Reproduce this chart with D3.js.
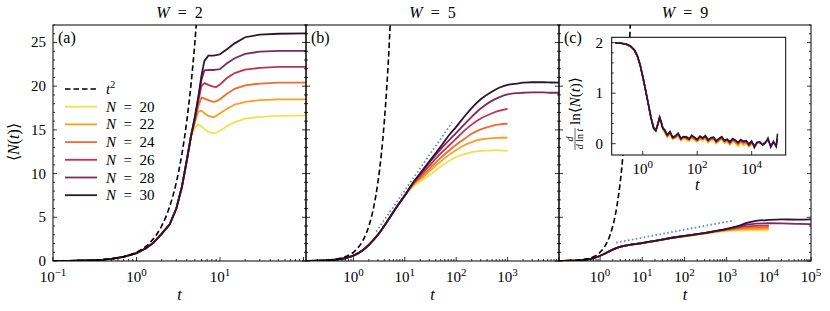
<!DOCTYPE html>
<html>
<head>
<meta charset="utf-8">
<script src="https://cdnjs.cloudflare.com/ajax/libs/d3/7.8.5/d3.min.js"></script>
<style>
  body { margin: 0; background: #fff; }
</style>
</head>
<body>
<svg id="fig" width="830" height="311"></svg>
<script>
// ---- data ----
var sizes = [20, 22, 24, 26, 28, 30];
var colors = ["#f3e04a", "#fb9e1d", "#f06b2c", "#c6304f", "#7e2a5c", "#2b1532"];

// t^2 reference curve
var tSq = [0.1, 0.15, 0.2, 0.3, 0.5, 0.7, 1, 1.25, 1.5, 1.75, 2, 2.5, 3, 3.5, 4, 4.5, 5, 5.5];
var vSq = [0.01, 0.0225, 0.04, 0.09, 0.25, 0.49, 1, 1.5625, 2.25, 3.0625, 4, 6.25, 9, 12.25, 16, 20.25, 25, 30.25];

// panel (a), W = 2
var tA = [0.1, 0.15, 0.2, 0.3, 0.4, 0.5, 0.7, 1, 1.3, 1.6, 2, 2.5, 3, 3.5, 4, 4.5,
          5, 5.5, 6, 6.5, 7.25, 8.3, 9, 10, 12, 15, 20, 30, 50, 107];
var headA = [0.01, 0.022, 0.04, 0.09, 0.16, 0.245, 0.47, 0.9, 1.45, 2.1, 3.1, 4.2, 6.0, 8.5, 11.5, 14.3];
var yA = [
  headA.concat([15.2, 15.6, 15.4, 15.1, 14.8, 14.6, 14.7, 14.9, 15.4, 15.9, 16.3, 16.5, 16.6, 16.65]),
  headA.concat([15.8, 17.1, 17.2, 16.9, 16.6, 16.45, 16.6, 16.9, 17.4, 17.9, 18.2, 18.4, 18.5, 18.5]),
  headA.concat([16.0, 17.7, 18.7, 18.6, 18.4, 18.2, 18.25, 18.5, 19.1, 19.7, 20.1, 20.3, 20.4, 20.4]),
  headA.concat([16.2, 18.3, 20.0, 20.35, 20.15, 19.95, 19.9, 20.2, 20.9, 21.5, 21.9, 22.1, 22.2, 22.2]),
  headA.concat([16.4, 18.6, 20.7, 21.8, 21.85, 21.85, 21.9, 21.95, 22.6, 23.2, 23.7, 23.95, 24.05, 24.05]),
  headA.concat([16.5, 18.8, 21.2, 22.9, 23.5, 23.5, 23.55, 23.65, 24.2, 24.9, 25.6, 25.9, 26.0, 26.05])
];

// panel (b), W = 5
var tB = [0.12, 0.2, 0.3, 0.5, 0.7, 1, 1.5, 2, 3, 5, 7, 10, 15, 20, 30, 50, 75, 100, 150, 200,
          300, 500, 700, 1000, 1500, 2000, 3000, 5000, 7000, 10000];
var headB = [0.01, 0.03, 0.07, 0.19, 0.34, 0.62, 1.2, 1.85, 3.0, 4.9, 6.2, 7.5];
var yB = [
  headB.concat([8.6, 9.1, 9.8, 10.8, 11.5, 11.9, 12.25, 12.45, 12.6, 12.65, 12.65, 12.6]),
  headB.concat([8.75, 9.35, 10.25, 11.4, 12.2, 12.7, 13.3, 13.6, 13.9, 14.05, 14.1, 14.1]),
  headB.concat([8.85, 9.55, 10.55, 11.8, 12.7, 13.3, 14.05, 14.55, 15.05, 15.45, 15.62, 15.7]),
  headB.concat([8.95, 9.75, 10.9, 12.3, 13.3, 14.0, 15.0, 15.6, 16.3, 16.9, 17.2, 17.4]),
  headB.concat([9.05, 9.95, 11.25, 12.8, 13.9, 14.65, 15.75, 16.5, 17.45, 18.35, 18.75, 19.05, 19.2, 19.25, 19.3, 19.3, 19.25, 19.25]),
  headB.concat([9.1, 10.05, 11.4, 13.1, 14.5, 15.35, 16.65, 17.5, 18.5, 19.4, 19.85, 20.15, 20.3, 20.4, 20.45, 20.45, 20.42, 20.4])
];
var dotBt = [2.77, 83], dotBv = [3.36, 15.85];

// panel (c), W = 9
var tC = [0.107, 0.2, 0.3, 0.5, 0.7, 1, 1.5, 2, 2.5, 4, 6, 10, 20, 50, 100, 200, 500, 1000,
          2000, 3000, 5000, 10000, 20000, 50000, 100000];
var headC = [0.01, 0.03, 0.07, 0.18, 0.33, 0.6, 1.0, 1.3, 1.5, 1.75, 1.9, 2.05];
var yC = [
  headC.concat([2.26, 2.6, 2.78, 2.98, 3.26, 3.42, 3.48, 3.5, 3.51, 3.51]),
  headC.concat([2.28, 2.63, 2.82, 3.03, 3.31, 3.5, 3.6, 3.64, 3.66, 3.67]),
  headC.concat([2.29, 2.64, 2.84, 3.05, 3.35, 3.57, 3.73, 3.8, 3.85, 3.86]),
  headC.concat([2.3, 2.65, 2.86, 3.07, 3.38, 3.62, 3.85, 3.95, 4.02, 4.05]),
  headC.concat([2.3, 2.66, 2.87, 3.08, 3.4, 3.66, 3.98, 4.15, 4.28, 4.32, 4.3, 4.24, 4.22]),
  headC.concat([2.3, 2.66, 2.87, 3.08, 3.4, 3.68, 4.05, 4.35, 4.58, 4.7, 4.76, 4.74, 4.76])
];
var dotCt = [2.4, 1520], dotCv = [2.1, 4.66];

// inset of (c): d ln<N> / d ln t, x given as log10(t)
var insHeadLog = [-1, -0.8, -0.6, -0.45, -0.3, -0.2, -0.1, 0, 0.1, 0.2, 0.3, 0.4, 0.48, 0.55, 0.62, 0.68, 0.74];
var insHead    = [2.0, 1.99, 1.97, 1.93, 1.85, 1.74, 1.57, 1.33, 1.07, 0.8, 0.52, 0.31, 0.26, 0.38, 0.52, 0.42, 0.3];
var insLog = [0.8, 0.9, 1.0, 1.1, 1.2, 1.3, 1.4, 1.5, 1.6, 1.7, 1.8, 1.9, 2.0, 2.1, 2.2, 2.3, 2.4, 2.5,
              2.6, 2.7, 2.8, 2.9, 3.0, 3.1, 3.2, 3.3, 3.4, 3.5, 3.6, 3.7, 3.8, 3.9, 4.0,
              4.1, 4.2, 4.3, 4.4, 4.5, 4.6, 4.7, 4.8, 4.9, 4.95];
var insY = [
  [0.22, 0.13, 0.18, 0.08, 0.12, 0.14, 0.06, 0.1, 0.07, 0.05, 0.11, 0.06, 0.03, 0.09, 0.05, 0.1, 0.02, 0.07,
   0.06, 0.0, 0.05, 0.08, 0.01, 0.03, -0.03, 0.04, 0.0, -0.05, 0.02, -0.04, 0.0, -0.06, -0.02],
  [0.23, 0.15, 0.2, 0.1, 0.11, 0.17, 0.07, 0.12, 0.09, 0.06, 0.12, 0.08, 0.05, 0.1, 0.08, 0.11, 0.03, 0.08,
   0.09, 0.01, 0.06, 0.1, 0.02, 0.05, -0.01, 0.06, 0.02, -0.03, 0.04, -0.02, 0.02, -0.05, 0.0],
  [0.25, 0.14, 0.22, 0.11, 0.13, 0.18, 0.08, 0.13, 0.1, 0.08, 0.14, 0.09, 0.06, 0.12, 0.09, 0.13, 0.05, 0.09,
   0.1, 0.03, 0.07, 0.11, 0.04, 0.06, 0.0, 0.07, 0.04, -0.01, 0.05, 0.01, 0.03, -0.04, 0.02],
  [0.27, 0.16, 0.23, 0.12, 0.14, 0.2, 0.09, 0.14, 0.12, 0.08, 0.16, 0.11, 0.07, 0.14, 0.1, 0.15, 0.06, 0.11,
   0.12, 0.04, 0.09, 0.13, 0.05, 0.08, 0.02, 0.09, 0.06, 0.01, 0.07, 0.03, 0.05, -0.03, 0.04],
  [0.27, 0.18, 0.22, 0.13, 0.16, 0.19, 0.11, 0.13, 0.14, 0.1, 0.15, 0.13, 0.09, 0.14, 0.12, 0.14, 0.08, 0.11,
   0.12, 0.06, 0.1, 0.12, 0.07, 0.08, 0.04, 0.09, 0.06, 0.03, 0.07, 0.05, 0.05, 0.0, 0.04,
   -0.04, 0.03, 0.02, -0.01, 0.03, 0.07, -0.04, 0.05, -0.06, 0.1],
  [0.28, 0.17, 0.24, 0.12, 0.15, 0.21, 0.1, 0.14, 0.13, 0.09, 0.17, 0.12, 0.08, 0.15, 0.11, 0.16, 0.07, 0.12,
   0.13, 0.05, 0.1, 0.14, 0.06, 0.09, 0.03, 0.1, 0.07, 0.02, 0.08, 0.04, 0.06, -0.02, 0.05,
   -0.08, 0.02, 0.04, -0.03, 0.01, 0.11, -0.07, 0.03, -0.05, 0.2]
];

var xTickExp = [[-1, 0, 1], [0, 1, 2, 3], [0, 1, 2, 3, 4, 5]];
var yTicks = [0, 5, 10, 15, 20, 25];
var titles = ["2", "5", "9"];
var panelTags = ["(a)", "(b)", "(c)"];

// ---- layout ----
var svg = d3.select("#fig");
var yTop = 25, yBot = 261;
var EN = "\u2002";
var panels = [
  { x0: 53,  x1: 306, lo: -1,     hi: 2.03, t: tA, ys: yA },
  { x0: 306, x1: 559, lo: -0.922, hi: 4.0,  t: tB, ys: yB, dt: dotBt, dv: dotBv },
  { x0: 559, x1: 811, lo: -0.974, hi: 5.0,  t: tC, ys: yC, dt: dotCt, dv: dotCv }
];
var y = d3.scaleLinear().domain([0, 27]).range([yBot, yTop]);

function supLabel(sel, x, yy, e) {
  var t = sel.append("text").attr("x", x).attr("y", yy)
      .attr("text-anchor", "middle").style("font-size", "15px");
  t.append("tspan").text("10");
  t.append("tspan").attr("dy", -6).style("font-size", "11px").text(e < 0 ? "\u2212" + (-e) : e);
}

function logTickList(x) {
  var d = x.domain(), out = [];
  var e0 = Math.floor(Math.log10(d[0])), e1 = Math.ceil(Math.log10(d[1]));
  for (var e = e0; e <= e1; e++) {
    for (var m = 1; m <= 9; m++) {
      var v = m * Math.pow(10, e);
      if (v >= d[0] * 0.999 && v <= d[1] * 1.001) out.push({ v: v, major: m == 1 });
    }
  }
  return out;
}

var lineGen = function(x, yy, curve) {
  return d3.line().x(function(d) { return x(d[0]); }).y(function(d) { return yy(d[1]); }).curve(curve);
};

panels.forEach(function(p, i) {
  var x = d3.scaleLog().domain([Math.pow(10, p.lo), Math.pow(10, p.hi)]).range([p.x0, p.x1]);
  var g = svg.append("g");

  g.append("clipPath").attr("id", "clip" + i).append("rect")
    .attr("x", p.x0).attr("y", yTop).attr("width", p.x1 - p.x0).attr("height", yBot - yTop);
  var plot = g.append("g").attr("clip-path", "url(#clip" + i + ")");

  var curve = i == 0 ? d3.curveLinear : d3.curveMonotoneX;
  p.ys.forEach(function(vals, k) {
    var pts = vals.map(function(v, j) { return [p.t[j], v]; });
    plot.append("path").attr("d", lineGen(x, y, curve)(pts))
      .attr("fill", "none").attr("stroke", colors[k]).attr("stroke-width", 1.8);
  });

  // t^2 guide
  plot.append("path").attr("d", lineGen(x, y, d3.curveMonotoneX)(tSq.map(function(t, j) { return [t, vSq[j]]; })))
    .attr("fill", "none").attr("stroke", "#000").attr("stroke-width", 1.6).attr("stroke-dasharray", "5.5,3");

  if (p.dt) {
    plot.append("path").attr("d", lineGen(x, y, d3.curveLinear)(p.dt.map(function(t, j) { return [t, p.dv[j]]; })))
      .attr("fill", "none").attr("stroke", "#5a8fcc").attr("stroke-width", 1.8).attr("stroke-dasharray", "1.6,2.4");
  }

  // frame
  g.append("rect").attr("x", p.x0).attr("y", yTop).attr("width", p.x1 - p.x0).attr("height", yBot - yTop)
    .attr("fill", "none").attr("stroke", "#000").attr("stroke-width", 1);

  // x ticks, inward
  logTickList(x).forEach(function(tk) {
    var len = tk.major ? 4 : 2;
    g.append("line").attr("x1", x(tk.v)).attr("x2", x(tk.v)).attr("y1", yBot).attr("y2", yBot - len)
      .attr("stroke", "#000").attr("stroke-width", 0.8);
  });
  xTickExp[i].forEach(function(e) { supLabel(g, x(Math.pow(10, e)), 282, e); });

  // y ticks both sides, inward
  for (var v = 0; v <= 27; v++) {
    var len = v % 5 == 0 ? 4 : 2;
    g.append("line").attr("x1", p.x0).attr("x2", p.x0 + len).attr("y1", y(v)).attr("y2", y(v))
      .attr("stroke", "#000").attr("stroke-width", 0.8);
    g.append("line").attr("x1", p.x1).attr("x2", p.x1 - len).attr("y1", y(v)).attr("y2", y(v))
      .attr("stroke", "#000").attr("stroke-width", 0.8);
  }

  // title, x label, tag
  var cx = (p.x0 + p.x1) / 2;
  var tt = g.append("text").attr("x", cx).attr("y", 18).attr("text-anchor", "middle").style("font-size", "16px");
  tt.append("tspan").style("font-style", "italic").text("W");
  tt.append("tspan").text(EN + "=" + EN + titles[i]);
  g.append("text").attr("x", cx).attr("y", 300).attr("text-anchor", "middle")
    .style("font-size", "16px").style("font-style", "italic").text("t");
  g.append("text").attr("x", p.x0 + 5).attr("y", 43).style("font-size", "16px").text(panelTags[i]);
});

// y tick labels + y label (panel a only)
yTicks.forEach(function(v) {
  svg.append("text").attr("x", 46).attr("y", y(v) + 5).attr("text-anchor", "end")
    .style("font-size", "15px").text(v);
});
var yl = svg.append("text").attr("transform", "translate(19,142) rotate(-90)")
  .attr("text-anchor", "middle").style("font-size", "16px");
yl.append("tspan").text("\u27E8");
yl.append("tspan").style("font-style", "italic").text("N");
yl.append("tspan").text("(");
yl.append("tspan").style("font-style", "italic").text("t");
yl.append("tspan").text(")\u27E9");

// legend
var legY0 = 89, legDy = 17.7;
svg.append("line").attr("x1", 65).attr("x2", 97).attr("y1", legY0).attr("y2", legY0)
  .attr("stroke", "#000").attr("stroke-width", 1.6).attr("stroke-dasharray", "5.5,3");
var lt = svg.append("text").attr("x", 106).attr("y", legY0 + 5).style("font-size", "15px");
lt.append("tspan").style("font-style", "italic").text("t");
lt.append("tspan").attr("dy", -6).style("font-size", "10px").text("2");
sizes.forEach(function(n, k) {
  var yy = legY0 + legDy * (k + 1);
  svg.append("line").attr("x1", 65).attr("x2", 97).attr("y1", yy).attr("y2", yy)
    .attr("stroke", colors[k]).attr("stroke-width", 1.8);
  var tx = svg.append("text").attr("x", 106).attr("y", yy + 5).style("font-size", "15px");
  tx.append("tspan").style("font-style", "italic").text("N");
  tx.append("tspan").text(EN + "=" + EN + n);
});

// ---- inset in panel (c) ----
var ix = d3.scaleLinear().domain([-1.14, 5.25]).range([611.7, 785.7]);
var iy = d3.scaleLinear().domain([-0.224, 2.107]).range([155, 37.3]);
var ins = svg.append("g");
ins.append("rect").attr("x", 611.7).attr("y", 37.3).attr("width", 174).attr("height", 117.7).attr("fill", "#fff");
ins.append("clipPath").attr("id", "clipIns").append("rect")
  .attr("x", 611.7).attr("y", 37.3).attr("width", 174).attr("height", 117.7);
var iplot = ins.append("g").attr("clip-path", "url(#clipIns)");
insY.forEach(function(vals, k) {
  var pts = insHeadLog.map(function(l, j) { return [l, insHead[j]]; })
    .concat(vals.map(function(v, j) { return [insLog[j], v]; }));
  iplot.append("path").attr("d", lineGen(ix, iy, d3.curveLinear)(pts))
    .attr("fill", "none").attr("stroke", colors[k]).attr("stroke-width", 1.6);
});
ins.append("rect").attr("x", 611.7).attr("y", 37.3).attr("width", 174).attr("height", 117.7)
  .attr("fill", "none").attr("stroke", "#000").attr("stroke-width", 1);
[0, 2, 4].forEach(function(e) {
  ins.append("line").attr("x1", ix(e)).attr("x2", ix(e)).attr("y1", 155).attr("y2", 151)
    .attr("stroke", "#000").attr("stroke-width", 0.8);
  supLabel(ins, ix(e), 174, e);
});
for (var v = 0; v <= 10; v++) {
  var val = v * 0.2, len = v % 5 == 0 ? 4 : 2;
  ins.append("line").attr("x1", 611.7).attr("x2", 611.7 + len).attr("y1", iy(val)).attr("y2", iy(val))
    .attr("stroke", "#000").attr("stroke-width", 0.8);
}
[0, 1, 2].forEach(function(v) {
  ins.append("text").attr("x", 603).attr("y", iy(v) + 5).attr("text-anchor", "end")
    .style("font-size", "15px").text(v);
});
ins.append("text").attr("x", ix(2)).attr("y", 190).attr("text-anchor", "middle")
  .style("font-size", "16px").style("font-style", "italic").text("t");

// inset y label: d/(d ln t) ln<N(t)>
var il = ins.append("g").attr("transform", "translate(575,95) rotate(-90)");
il.append("text").attr("x", -44).attr("y", -2).attr("text-anchor", "middle")
  .style("font-size", "10px").style("font-style", "italic").text("d");
il.append("line").attr("x1", -55).attr("x2", -33).attr("y1", 0).attr("y2", 0)
  .attr("stroke", "#000").attr("stroke-width", 0.6);
var den = il.append("text").attr("x", -44).attr("y", 8).attr("text-anchor", "middle").style("font-size", "10px");
den.append("tspan").style("font-style", "italic").text("d");
den.append("tspan").text(" ln ");
den.append("tspan").style("font-style", "italic").text("t");
var num = il.append("text").attr("x", -30).attr("y", 4.5).style("font-size", "15px");
num.append("tspan").text("ln\u27E8");
num.append("tspan").style("font-style", "italic").text("N");
num.append("tspan").text("(");
num.append("tspan").style("font-style", "italic").text("t");
num.append("tspan").text(")\u27E9");

// serif face for every label
svg.selectAll("text").style("font-family", "'Liberation Serif'").style("fill", "#000");
</script>
</body>
</html>
